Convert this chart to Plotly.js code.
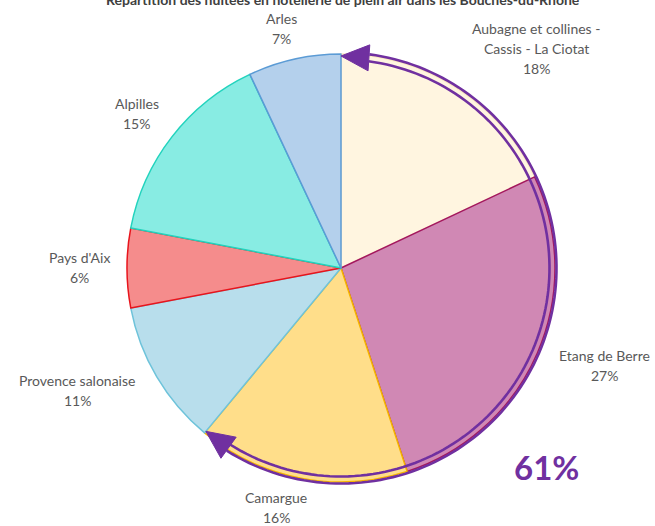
<!DOCTYPE html>
<html>
<head>
<meta charset="utf-8">
<script src="https://cdn.plot.ly/plotly-3.0.1.min.js"></script>
<style>html,body{margin:0;padding:0;background:#fff;}</style>
</head>
<body>
<div id="chart" style="width:655px;height:526px;"></div>
<script>
// ---- data ----
const titleText = "Répartition des nuitées en hôtellerie de plein air dans les Bouches-du-Rhône";
const categories = ["Aubagne et collines -<br>Cassis - La Ciotat", "Etang de Berre", "Camargue",
                    "Provence salonaise", "Pays d'Aix", "Alpilles", "Arles"];
const values = [18, 27, 16, 11, 6, 15, 7];
const highlightCount = 3;   // first three slices grouped by the arrow
const highlightLabel = "61%";

// ---- styles ----
const W = 655, H = 526;
const fillColors = ["#FFF5E0", "#D088B4", "#FFDE8A", "#B8DEEC", "#F58C8C", "#88ECE3", "#B4D0EC"];
const lineColors = ["#FBE8C0", "#A3175E", "#F5B400", "#6EC3DA", "#E8141C", "#22D3BD", "#5B9BD5"];
const purple = "#7030A0";
const textGray = "#595959";
const cx = 341, cy = 268, R = 214;
const labelDist = [294, 281, 248, 291, 262, 256, 247];
const labelTurn = [9.2, -3, 4.3, 5.6, 0.2, -0.8, -1.4];
const lineGap = 20;

const px = x => x / W;
const py = y => 1 - y / H;

const total = values.reduce((a, b) => a + b, 0);
const data = [{
  type: 'pie',
  labels: categories,
  values: values,
  sort: false,
  direction: 'clockwise',
  rotation: 0,
  textinfo: 'none',
  hoverinfo: 'label+percent',
  marker: { colors: fillColors, line: { color: lineColors, width: 1.5 } },
  domain: { x: [px(cx - R), px(cx + R)], y: [py(cy + R), py(cy - R)] },
  showlegend: false
}];

const annotations = [];
// title (cut at top like the reference)
annotations.push({
  text: "<b>" + titleText + "</b>", xref: 'paper', yref: 'paper', x: px(343), y: 1,
  xanchor: 'center', yanchor: 'middle', yshift: 1, showarrow: false,
  font: { family: 'Lato, sans-serif', size: 14, color: '#404040' }
});

// slice labels
let cum = 0;
values.forEach((v, i) => {
  const mid = (cum + v / 2) / total * 360 + labelTurn[i];
  cum += v;
  const a = mid * Math.PI / 180;
  const lx = cx + labelDist[i] * Math.sin(a);
  const ly = cy - labelDist[i] * Math.cos(a);
  const lines = categories[i].split('<br>').concat([Math.round(v / total * 100) + '%']);
  lines.forEach((t, k) => {
    const yy = ly + (k - (lines.length - 1) / 2) * lineGap;
    annotations.push({
      text: t, xref: 'paper', yref: 'paper', x: px(lx), y: py(yy),
      xanchor: 'center', yanchor: 'middle', showarrow: false,
      font: { family: 'Lato, sans-serif', size: 14, color: textGray }
    });
  });
});

// highlighted share text
annotations.push({
  text: "<b>" + highlightLabel + "</b>", xref: 'paper', yref: 'paper', x: px(546), y: py(467),
  xanchor: 'center', yanchor: 'middle', showarrow: false,
  font: { family: 'Lato, sans-serif', size: 33, color: purple }
});

// double-line arrow around the highlighted slices
const shapes = [];
const hlShare = values.slice(0, highlightCount).reduce((a, b) => a + b, 0) / total;
const a0 = 0, a1 = hlShare * 2 * Math.PI;
const rA = R - 2, L = 28, HW = 13;
const pt = (r, a) => [cx + r * Math.sin(a), cy - r * Math.cos(a)];
const s0 = a0 + L / rA, s1 = a1 - L / rA;
[rA - 3.5, rA + 3.5].forEach(r => {
  let d = '';
  const n = 120;
  for (let k = 0; k <= n; k++) {
    const a = s0 + (s1 - s0) * k / n;
    const p = pt(r, a);
    d += (k === 0 ? 'M' : 'L') + px(p[0]).toFixed(5) + ',' + py(p[1]).toFixed(5) + ' ';
  }
  shapes.push({ type: 'path', xref: 'paper', yref: 'paper', path: d,
    line: { color: purple, width: 2.6 }, fillcolor: 'rgba(0,0,0,0)' });
});
function head(aTip, sign) {
  const T = pt(rA, aTip);
  const aB = aTip - sign * L / rA;
  const B = pt(rA, aB);
  const dx = T[0] - B[0], dy = T[1] - B[1];
  const len = Math.hypot(dx, dy);
  const nx = -dy / len, ny = dx / len;
  const P1 = [B[0] + nx * HW, B[1] + ny * HW], P2 = [B[0] - nx * HW, B[1] - ny * HW];
  const path = 'M' + [T, P1, P2].map(p => px(p[0]).toFixed(5) + ',' + py(p[1]).toFixed(5)).join(' L') + ' Z';
  shapes.push({ type: 'path', xref: 'paper', yref: 'paper', path: path,
    line: { color: purple, width: 1 }, fillcolor: purple });
}
head(a0, -1);
head(a1, 1);

const layout = {
  width: W, height: H,
  margin: { l: 0, r: 0, t: 0, b: 0 },
  paper_bgcolor: '#ffffff', plot_bgcolor: '#ffffff',
  showlegend: false,
  annotations: annotations,
  shapes: shapes,
  font: { family: 'Lato, sans-serif' }
};
Plotly.newPlot('chart', data, layout, { displayModeBar: false, staticPlot: true });
</script>
</body>
</html>
